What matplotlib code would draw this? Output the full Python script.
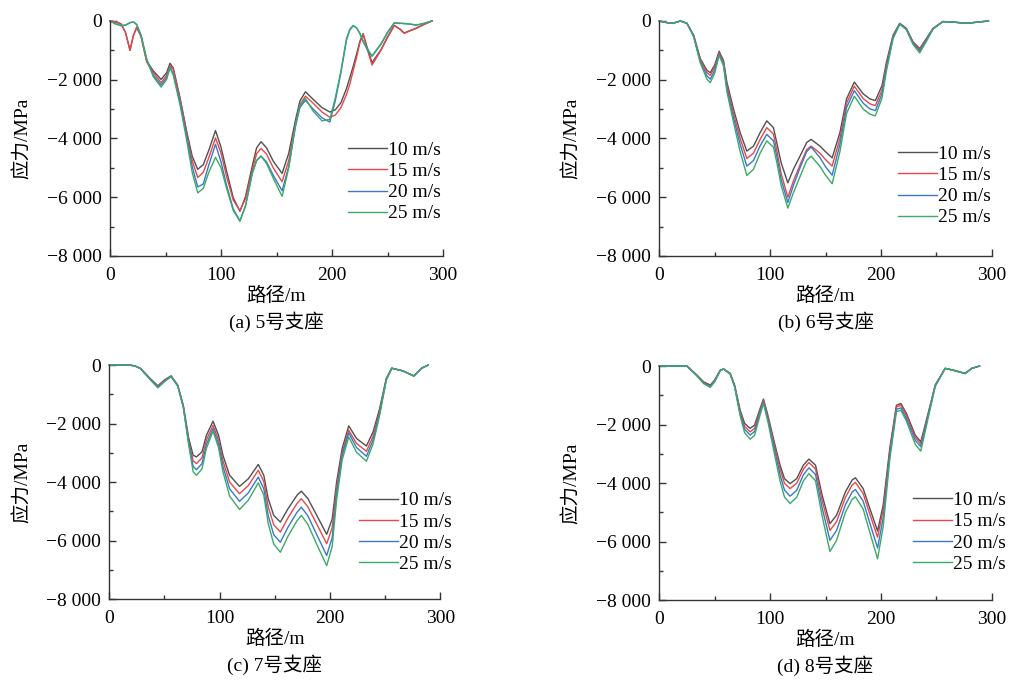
import matplotlib
matplotlib.use("Agg")
import matplotlib.pyplot as plt
from matplotlib.ticker import MultipleLocator

plt.rcParams['font.family'] = ['Liberation Serif', 'Noto Sans CJK SC', 'DejaVu Sans']
plt.rcParams['axes.unicode_minus'] = True

series_labels = ["10 m/s", "15 m/s", "20 m/s", "25 m/s"]
series_colors = ["#505050", "#e8474a", "#3a78c8", "#3aaa68"]
y_ticks = [-8000, -6000, -4000, -2000, 0]
y_ticklabels = ["\u22128 000", "\u22126 000", "\u22124 000", "\u22122 000", "0"]
x_ticks = [0, 100, 200, 300]
captions = ["(a) 5号支座", "(b) 6号支座", "(c) 7号支座", "(d) 8号支座"]

# ---- panel (a) ----
xa = [0, 5, 10, 14, 18, 21, 24, 28, 33, 39, 46, 51, 54, 57, 63, 69, 74, 79, 84, 89, 95, 100, 105, 111,
      117, 122, 128, 132, 136, 141, 147, 155, 161, 167, 171, 176, 183, 191, 198, 203, 208, 213, 216,
      219, 222, 225, 228, 232, 236, 240, 244, 250, 256, 261, 265, 270, 276, 283, 290]
a10 = [0, -30, -100, -400, -1000, -500, -220, -520, -1360, -1700, -1990, -1760, -1440, -1600, -2610,
       -3750, -4600, -5050, -4890, -4400, -3730, -4300, -5110, -6020, -6480, -5980, -4960, -4320, -4110,
       -4320, -4770, -5190, -4500, -3380, -2730, -2410, -2670, -2950, -3100, -3020, -2780, -2300, -1930,
       -1550, -1140, -700, -430, -950, -1420, -1200, -980, -540, -150, -270, -410, -330, -240, -110, 0]
a15 = [0, -30, -100, -400, -1000, -500, -220, -540, -1400, -1760, -2100, -1850, -1520, -1650, -2640,
       -3800, -4750, -5330, -5150, -4650, -3980, -4500, -5300, -6100, -6450, -6050, -5100, -4520, -4340,
       -4530, -5000, -5470, -4750, -3500, -2850, -2560, -2800, -3100, -3280, -3200, -2950, -2500, -2150,
       -1700, -1250, -750, -450, -1000, -1500, -1250, -1000, -560, -160, -280, -420, -340, -250, -120, 0]
a20 = [0, -100, -160, -140, -60, -30, -120, -500, -1300, -1850, -2180, -1930, -1560, -1800, -2750,
       -3900, -4950, -5650, -5550, -4900, -4200, -4800, -5600, -6400, -6800, -6300, -5200, -4750, -4600,
       -4800, -5250, -5780, -4950, -3600, -2950, -2700, -3000, -3300, -3440, -2700, -1750, -650, -300,
       -170, -230, -420, -700, -1000, -1200, -1000, -800, -400, -70, -80, -90, -110, -140, -80, 0]
a25 = [0, -100, -160, -140, -60, -30, -120, -500, -1300, -1900, -2250, -1990, -1600, -1850, -2850,
       -4050, -5150, -5850, -5700, -5150, -4640, -5000, -5700, -6450, -6820, -6300, -5200, -4750, -4600,
       -4850, -5350, -5970, -5000, -3550, -2880, -2640, -3070, -3400, -3350, -2600, -1700, -600, -280,
       -150, -230, -420, -680, -950, -1190, -980, -780, -380, -60, -75, -85, -100, -140, -80, 0]

# ---- panel (b) ----
xb = [0, 5, 10, 15, 19, 25, 31, 37, 43, 46, 50, 54, 58, 61, 67, 73, 79, 85, 91, 97, 103, 106, 110, 116,
      121, 127, 133, 137, 145, 150, 156, 163, 169, 176, 184, 190, 195, 201, 205, 211, 217, 223, 229,
      235, 241, 247, 256, 266, 277, 287, 297]
b10 = [0, -40, -80, -50, 0, -80, -480, -1280, -1680, -1760, -1500, -1030, -1350, -2080, -3000, -3800,
       -4430, -4260, -3800, -3400, -3630, -4140, -4830, -5510, -5050, -4600, -4140, -4030, -4260, -4450,
       -4660, -3800, -2650, -2080, -2480, -2650, -2710, -2200, -1400, -480, -80, -250, -710, -940, -600,
       -250, -20, -40, -80, -40, 0]
b15 = [0, -40, -80, -50, 0, -80, -500, -1330, -1760, -1850, -1580, -1080, -1420, -2200, -3150, -4000,
       -4680, -4500, -4030, -3630, -3850, -4400, -5200, -6000, -5450, -4900, -4380, -4260, -4500, -4720,
       -4940, -4000, -2800, -2220, -2640, -2820, -2880, -2350, -1500, -520, -90, -270, -740, -980, -630,
       -260, -20, -40, -80, -40, 0]
b20 = [0, -40, -80, -50, 0, -80, -520, -1380, -1870, -1980, -1680, -1130, -1480, -2300, -3300, -4200,
       -4940, -4750, -4250, -3860, -4080, -4600, -5400, -6180, -5600, -5000, -4450, -4290, -4650, -4960,
       -5250, -4200, -2950, -2370, -2800, -2990, -3050, -2480, -1600, -560, -100, -280, -770, -1030, -660,
       -270, -20, -40, -80, -40, 0]
b25 = [0, -40, -80, -50, 0, -80, -540, -1430, -1980, -2100, -1780, -1170, -1530, -2400, -3450, -4450,
       -5260, -5050, -4500, -4080, -4300, -4800, -5600, -6370, -5850, -5300, -4750, -4600, -4950, -5250,
       -5540, -4450, -3150, -2560, -3000, -3170, -3230, -2620, -1700, -600, -110, -300, -800, -1090, -700,
       -280, -20, -40, -80, -40, 0]

# ---- panel (c) ----
xc = [0, 10, 18, 23, 28, 37, 44, 50, 56, 62, 67, 72, 76, 79, 84, 88, 94, 99, 103, 109, 118, 126, 135,
      140, 144, 149, 155, 162, 170, 174, 180, 188, 197, 202, 206, 211, 217, 224, 233, 239, 245, 251,
      256, 266, 276, 283, 289]
c10 = [0, 0, 0, -30, -110, -460, -710, -510, -370, -690, -1370, -2510, -3090, -3140, -2970, -2400,
       -1920, -2400, -3090, -3770, -4150, -3890, -3400, -3770, -4570, -5140, -5370, -4910, -4460, -4310,
       -4570, -5140, -5790, -5260, -4000, -2860, -2080, -2510, -2770, -2290, -1490, -460, -110, -200,
       -370, -110, 0]
c15 = [0, 0, 0, -30, -110, -470, -740, -530, -380, -700, -1400, -2600, -3280, -3370, -3170, -2560,
       -2060, -2560, -3280, -4000, -4400, -4120, -3600, -3980, -4850, -5460, -5710, -5220, -4740, -4570,
       -4850, -5440, -6110, -5560, -4200, -3000, -2230, -2680, -2950, -2440, -1580, -480, -110, -200,
       -370, -110, 0]
c20 = [0, 0, 0, -30, -115, -480, -760, -550, -390, -710, -1420, -2680, -3470, -3580, -3370, -2720,
       -2170, -2700, -3470, -4230, -4660, -4370, -3830, -4230, -5150, -5800, -6060, -5540, -5040, -4860,
       -5160, -5800, -6510, -5900, -4400, -3100, -2320, -2820, -3120, -2570, -1650, -500, -110, -200,
       -380, -110, 0]
c25 = [0, 0, 0, -30, -120, -500, -780, -570, -400, -720, -1440, -2750, -3650, -3770, -3550, -2850,
       -2260, -2830, -3650, -4480, -4940, -4620, -4030, -4450, -5420, -6120, -6400, -5850, -5330, -5140,
       -5450, -6130, -6860, -6200, -4600, -3250, -2460, -2980, -3290, -2700, -1720, -520, -110, -200,
       -380, -110, 0]

# ---- panel (d) ----
xd = [0, 10, 20, 25, 34, 40, 46, 50, 55, 58, 64, 68, 73, 77, 82, 86, 91, 94, 98, 103, 109, 113, 118,
      124, 130, 135, 141, 147, 154, 160, 168, 174, 177, 184, 190, 197, 202, 208, 214, 218, 223, 231,
      236, 243, 249, 258, 265, 276, 282, 289]
d10 = [0, 0, 0, 0, -310, -540, -650, -480, -140, -100, -250, -650, -1510, -1960, -2130, -2020, -1450,
       -1130, -1680, -2480, -3390, -3850, -4020, -3850, -3390, -3180, -3390, -4420, -5390, -5100, -4300,
       -3900, -3820, -4190, -4870, -5640, -4760, -2820, -1340, -1280, -1620, -2360, -2590, -1560, -650,
       -80, -140, -250, -80, 0]
d15 = [0, 0, 0, 0, -320, -560, -680, -500, -150, -100, -260, -680, -1580, -2060, -2250, -2130, -1520,
       -1170, -1750, -2580, -3530, -4010, -4190, -4010, -3530, -3300, -3520, -4600, -5620, -5320, -4490,
       -4070, -3980, -4360, -5060, -5850, -4930, -2920, -1400, -1340, -1690, -2440, -2670, -1600, -660,
       -80, -140, -250, -80, 0]
d20 = [0, 0, 0, 0, -330, -580, -700, -520, -155, -100, -270, -700, -1640, -2160, -2360, -2240, -1590,
       -1220, -1820, -2700, -3720, -4240, -4450, -4250, -3720, -3480, -3710, -4850, -5960, -5620, -4740,
       -4310, -4220, -4620, -5370, -6220, -5200, -3050, -1480, -1430, -1790, -2540, -2760, -1650, -680,
       -80, -140, -260, -80, 0]
d25 = [0, 0, 0, 0, -340, -600, -730, -540, -160, -100, -280, -720, -1700, -2280, -2500, -2370, -1670,
       -1280, -1900, -2830, -3930, -4480, -4700, -4490, -3930, -3680, -3920, -5130, -6340, -5960, -5000,
       -4560, -4470, -4890, -5690, -6590, -5500, -3200, -1560, -1510, -1880, -2680, -2910, -1720, -700,
       -80, -140, -260, -80, 0]

panels = [
    (xa, [a10, a15, a20, a25]),
    (xb, [b10, b15, b20, b25]),
    (xc, [c10, c15, c20, c25]),
    (xd, [d10, d15, d20, d25]),
]

# layout: [left, bottom, width, height], legend anchor (axes fraction)
rects = [
    [0.1083, 0.6241, 0.3278, 0.3451],
    [0.6489, 0.6241, 0.3272, 0.3451],
    [0.1076, 0.1204, 0.3258, 0.3436],
    [0.6489, 0.1189, 0.3272, 0.3436],
]
leg_anchor = [(0.715, 0.487), (0.718, 0.47), (0.755, 0.458), (0.763, 0.463)]

fig = plt.figure(figsize=(10.16, 6.81), dpi=100)
FS = 14
axis_col = "#333333"

for i, ((xs, ys), rect) in enumerate(zip(panels, rects)):
    ax = fig.add_axes(rect)
    for y, lab, col in zip(ys, series_labels, series_colors):
        ax.plot(xs, y, color=col, lw=1.0, label=lab, clip_on=False)
    ax.set_xlim(0, 300)
    ax.set_ylim(-8000, 0)
    ax.set_xticks(x_ticks)
    ax.set_xticklabels([str(v) for v in x_ticks])
    ax.set_yticks(y_ticks)
    ax.set_yticklabels(y_ticklabels)
    ax.xaxis.set_minor_locator(MultipleLocator(50))
    ax.yaxis.set_minor_locator(MultipleLocator(1000))
    for s in ["top", "right"]:
        ax.spines[s].set_visible(False)
    for s in ["left", "bottom"]:
        ax.spines[s].set_color(axis_col)
        ax.spines[s].set_linewidth(1.0)
    ax.tick_params(which="major", direction="in", length=5, width=1.0, color=axis_col,
                   labelsize=FS, colors="black")
    ax.tick_params(which="minor", direction="in", length=3, width=1.0, color=axis_col)
    ax.tick_params(axis="x", which="major", pad=8)
    ax.tick_params(axis="y", which="major", pad=6)
    for t in ax.get_xticklabels() + ax.get_yticklabels():
        t.set_color("black")
    ax.set_xlabel("路径/m", fontsize=FS, labelpad=2)
    ax.set_ylabel("应力/MPa", fontsize=FS)
    ax.yaxis.set_label_coords(-0.235, 0.5)
    ax.text(0.5, -0.28, captions[i], transform=ax.transAxes, ha="center", va="center",
            fontsize=FS)
    ax.legend(loc="upper left", bbox_to_anchor=leg_anchor[i], frameon=False, fontsize=FS,
              handlelength=2.0, handletextpad=0.05, labelspacing=0.18, borderpad=0,
              borderaxespad=0)

fig.savefig("out.png", dpi=100)
